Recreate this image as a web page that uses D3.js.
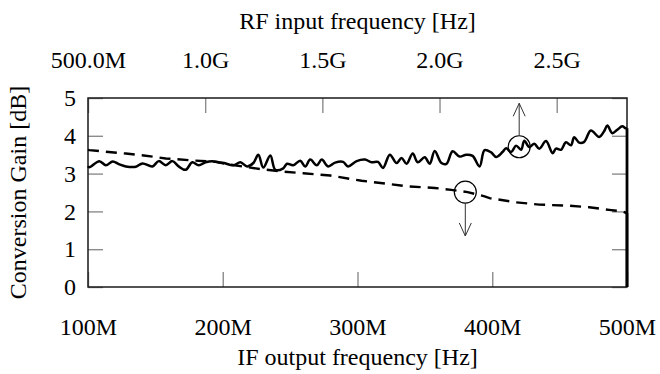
<!DOCTYPE html>
<html>
<head>
<meta charset="utf-8">
<script src="https://cdn.jsdelivr.net/npm/d3@7"></script>
<style>
  html, body { margin: 0; padding: 0; background: #fff; }
</style>
</head>
<body>
<svg id="chart" width="660" height="374"></svg>
<script>
// ---- data (IF frequency in MHz, conversion gain in dB) ----
const solidIF = [100,101,108.4,113.3,118.3,122.9,128.1,135.5,140.4,147.8,152.5,157.7,162.6,167.3,172.5,177.4,182.1,187.2,192.2,196.9,200.8,207.9,213.1,218.1,222.7,226.4,230.1,235.3,239,244.9,247.7,252.3,257.5,261.2,264.9,269.8,273.5,278.2,283.4,289.3,293,299.4,305.5,310.5,315.2,318.9,324,329,332.7,336.4,341,344.7,349.9,353.6,357.3,362.3,366,370.6,375.8,380.7,385.4,390.6,394.3,399.2,402.9,407.6,410.3,414,417.7,421.4,423.8,427.5,431.2,434.9,439.9,444.8,447.3,451,454.7,458.4,460.8,464.5,468.2,473.2,479.3,483,485.4,489.1,492.8,496.5,499,500,500];
const solidGain = [3.2,3.17,3.33,3.22,3.32,3.25,3.19,3.18,3.27,3.19,3.33,3.22,3.33,3.19,3.1,3.3,3.22,3.3,3.33,3.3,3.28,3.22,3.3,3.19,3.28,3.5,3.16,3.48,3.1,3.14,3.26,3.22,3.34,3.19,3.37,3.22,3.37,3.19,3.29,3.31,3.19,3.33,3.37,3.3,3.31,3.15,3.5,3.28,3.41,3.26,3.53,3.3,3.43,3.26,3.6,3.28,3.26,3.59,3.45,3.5,3.47,3.19,3.62,3.56,3.44,3.57,3.67,3.57,3.74,3.63,3.87,3.7,3.79,3.66,3.86,3.54,3.66,3.63,3.83,3.75,3.96,3.82,3.84,4.14,3.97,4.12,4.27,4.07,4.16,4.25,4.2,4.2,0];

const dashedIF = [100,101,128.1,141.4,157.7,177.4,194.6,203.3,227.9,242.7,259.7,279.7,294.5,303.1,322.6,337.3,357.3,369.6,381.7,394.3,398,417.7,434.9,457.1,471.9,486.7,496.5,500,500];
const dashedGain = [3.63,3.62,3.53,3.48,3.4,3.35,3.31,3.25,3.12,3.06,3.01,2.95,2.86,2.81,2.73,2.66,2.62,2.57,2.51,2.4,2.35,2.24,2.18,2.15,2.11,2.04,2.0,1.95,0];

// ---- tick labels ----
const ifTicks = [100, 200, 300, 400, 500];
const ifTickLabels = ["100M", "200M", "300M", "400M", "500M"];
const rfTicks = [0.5, 1.0, 1.5, 2.0, 2.5];
const rfTickLabels = ["500.0M", "1.0G", "1.5G", "2.0G", "2.5G"];
const gainTicks = [0, 1, 2, 3, 4, 5];
const rfDomain = [0.5, 2.8];

// ---- annotations: [IF, gain, arrow end gain] ----
const markerUp = [420, 3.71, 4.86];
const markerDown = [380, 2.51, 1.35];

// ---- layout ----
const svg = d3.select("#chart");
const L = 88, R = 627, T = 98, B = 287;
const FS = 24;
const SERIF = "Liberation Serif";

const x = d3.scaleLinear().domain([100, 500]).range([L, R]);
const xTop = d3.scaleLinear().domain(rfDomain).range([L, R]);
const y = d3.scaleLinear().domain([0, 5]).range([B, T]);

const tickColor = "#8c8c8c";

function styleAxis(g) {
  g.attr("font-family", SERIF).attr("font-size", FS);
  g.select(".domain").remove();
  g.selectAll(".tick line").attr("stroke", tickColor).attr("stroke-width", 1.4);
  g.selectAll(".tick text").attr("font-size", FS).attr("fill", "#000")
    .attr("font-family", SERIF);
}

svg.append("g").attr("transform", `translate(0,${B})`)
  .call(d3.axisBottom(x).tickValues(ifTicks).tickFormat((d, i) => ifTickLabels[i]).tickSize(-15).tickPadding(31))
  .call(styleAxis);

svg.append("g").attr("transform", `translate(0,${T})`)
  .call(d3.axisTop(xTop).tickValues(rfTicks).tickFormat((d, i) => rfTickLabels[i]).tickSize(-15).tickPadding(30))
  .call(styleAxis);

svg.append("g").attr("transform", `translate(${L},0)`)
  .call(d3.axisLeft(y).tickValues(gainTicks).tickFormat(d3.format("d")).tickSize(-15).tickPadding(12))
  .call(styleAxis);

svg.append("g").attr("transform", `translate(${R},0)`)
  .call(d3.axisRight(y).tickValues(gainTicks).tickFormat("").tickSize(-15))
  .call(styleAxis);

// frame
svg.append("rect").attr("x", L).attr("y", T).attr("width", R - L).attr("height", B - T)
  .attr("fill", "none").attr("stroke", "#1a1a1a").attr("stroke-width", 1.5);

// lines
const line = d3.line().x(d => x(d[0])).y(d => y(d[1])).curve(d3.curveCatmullRom.alpha(0.5));
const lineLin = d3.line().x(d => x(d[0])).y(d => y(d[1]));

const solidData = solidIF.map((v, i) => [v, solidGain[i]]);
const dashedData = dashedIF.map((v, i) => [v, dashedGain[i]]);

svg.append("path").datum(dashedData.slice(0, -1))
  .attr("d", lineLin).attr("fill", "none").attr("stroke", "#000")
  .attr("stroke-width", 2.4).attr("stroke-dasharray", "11,7");
svg.append("path").datum(dashedData.slice(-2))
  .attr("d", lineLin).attr("fill", "none").attr("stroke", "#000").attr("stroke-width", 2.6);

svg.append("path").datum(solidData.slice(0, -1))
  .attr("d", line).attr("fill", "none").attr("stroke", "#000")
  .attr("stroke-width", 2.5).attr("stroke-linejoin", "round");
svg.append("path").datum(solidData.slice(-2))
  .attr("d", lineLin).attr("fill", "none").attr("stroke", "#000").attr("stroke-width", 2.8);

// annotations
const rC = 11;
function marker(m, dir) {
  const cx = x(m[0]), cy = y(m[1]), ey = y(m[2]);
  svg.append("circle").attr("cx", cx).attr("cy", cy).attr("r", rC)
    .attr("fill", "none").attr("stroke", "#000").attr("stroke-width", 1.2);
  const sy = cy + dir * rC;
  svg.append("line").attr("x1", cx).attr("y1", sy).attr("x2", cx).attr("y2", ey)
    .attr("stroke", "#333").attr("stroke-width", 1);
  const hl = 13, hw = 6;
  svg.append("path")
    .attr("d", `M${cx - hw},${ey - dir * hl} L${cx},${ey} L${cx + hw},${ey - dir * hl}`)
    .attr("fill", "none").attr("stroke", "#333").attr("stroke-width", 1);
}
marker(markerUp, -1);
marker(markerDown, 1);

// titles
svg.append("text").attr("x", (L + R) / 2).attr("y", 29).attr("text-anchor", "middle")
  .attr("font-size", FS).attr("font-family", SERIF).text("RF input frequency [Hz]");
svg.append("text").attr("x", (L + R) / 2).attr("y", 365).attr("text-anchor", "middle")
  .attr("font-size", FS).attr("font-family", SERIF).text("IF output frequency [Hz]");
svg.append("text").attr("transform", `translate(26,${(T + B) / 2}) rotate(-90)`)
  .attr("text-anchor", "middle").attr("font-size", FS).attr("font-family", SERIF).text("Conversion Gain [dB]");
</script>
</body>
</html>
